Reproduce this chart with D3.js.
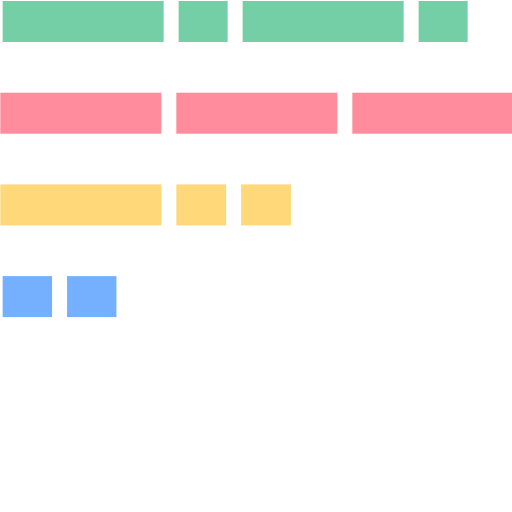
<!DOCTYPE html>
<html>
<head>
<meta charset="utf-8">
<script src="https://cdn.jsdelivr.net/npm/d3@7"></script>
<style>
  html, body { margin: 0; padding: 0; background: #fff; overflow: hidden; }
  svg { display: block; }
</style>
</head>
<body>
<svg id="chart" width="512" height="512"></svg>
<script>
// Data (units: one unit = 1/64 of the visible width)
const categories = ["A", "B", "C", "D"];
const rowStarts = [0.33, 0.04, 0.04, 0.33];
const seriesA = [22, 8, 22, 8];
const seriesB = [22, 22, 22];
const seriesC = [22, 8.1, 8.1];
const seriesD = [8.05, 8.05];
const colors = ["#74CEA6", "#FF8C9C", "#FFD879", "#74B0FF"];

const rows = [seriesA, seriesB, seriesC, seriesD];

const W = 512, H = 512;
const svg = d3.select("#chart");

const x = d3.scaleLinear().domain([0, 64]).range([0, W]);
const y = d3.scaleBand()
  .domain(categories)
  .range([-24.35, 342.45])
  .paddingInner(0.5529)
  .paddingOuter(0.2765);

const gap = 15;

rows.forEach((vals, i) => {
  let acc = rowStarts[i];
  const segs = vals.map(v => {
    const s = { start: acc, value: v };
    acc += v;
    return s;
  });
  svg.append("g")
    .selectAll("rect")
    .data(segs)
    .join("rect")
    .attr("x", d => x(d.start))
    .attr("y", y(categories[i]))
    .attr("width", d => x(d.start + d.value) - x(d.start) - gap)
    .attr("height", y.bandwidth())
    .attr("fill", colors[i]);
});
</script>
</body>
</html>
